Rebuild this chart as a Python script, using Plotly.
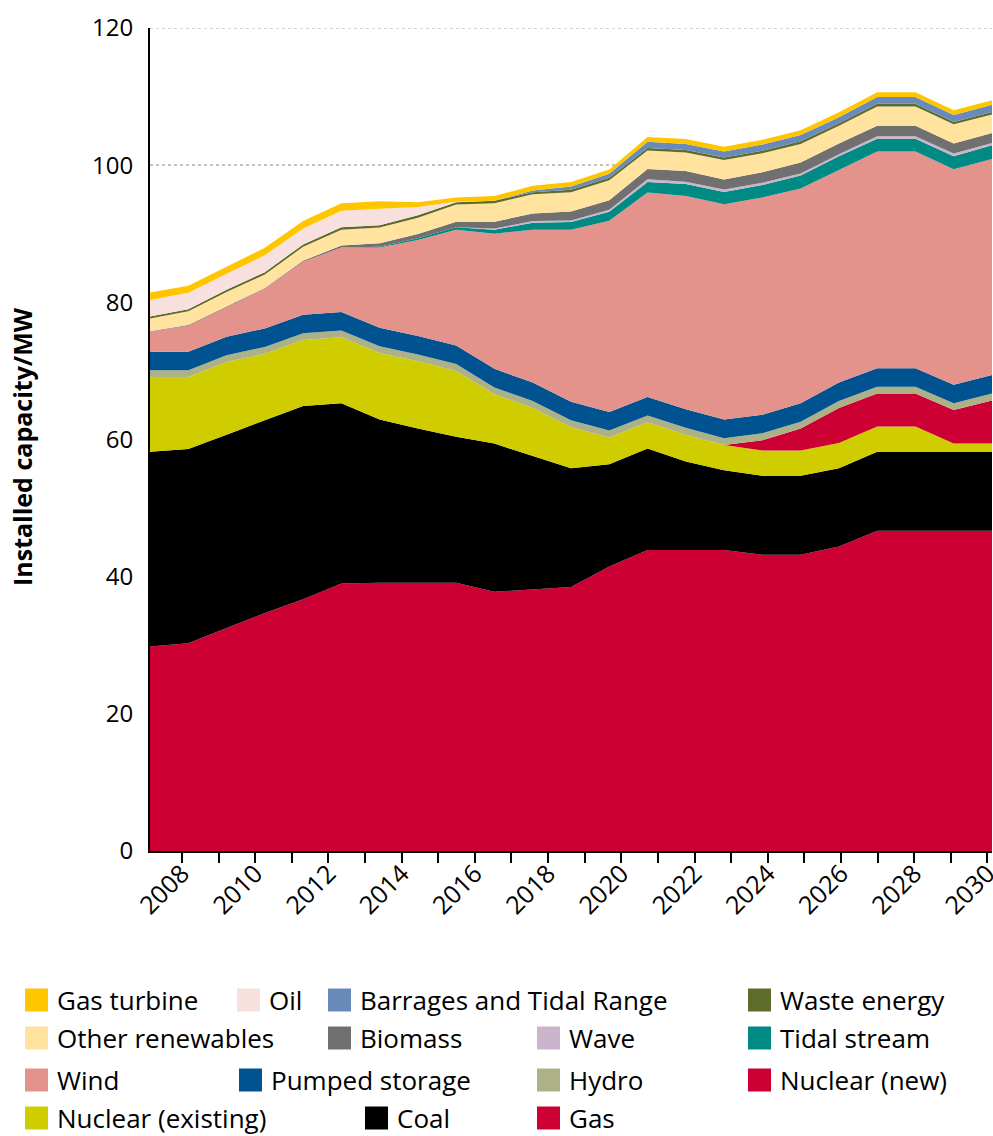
import plotly.graph_objects as go

years = list(range(2008, 2031))

# installed capacity per source (bottom of stack first)
gas = [29.8, 30.3, 32.5, 34.7, 36.7, 39.0, 39.1, 39.1, 39.1, 37.8, 38.2, 38.5, 41.5, 43.9, 43.9, 43.9, 43.2, 43.2, 44.4, 46.7, 46.7, 46.7, 46.7]
coal = [28.4, 28.3, 28.2, 28.1, 28.2, 26.3, 23.8, 22.5, 21.3, 21.6, 19.4, 17.3, 14.9, 14.8, 12.9, 11.6, 11.5, 11.5, 11.4, 11.5, 11.5, 11.5, 11.5]
nuclear_existing = [10.9, 10.5, 10.6, 9.7, 9.6, 9.6, 9.7, 9.8, 9.6, 7.2, 7.0, 6.0, 3.9, 3.8, 3.9, 3.7, 3.7, 3.7, 3.7, 3.7, 3.7, 1.2, 1.2]
nuclear_new = [0, 0, 0, 0, 0, 0, 0, 0, 0, 0, 0, 0, 0, 0, 0, 0, 1.5, 3.2, 5.1, 4.8, 4.8, 4.9, 6.3]
hydro = [1.0, 1.0, 1.0, 1.0, 1.0, 1.0, 1.0, 1.0, 1.0, 1.0, 1.0, 1.0, 1.0, 1.0, 1.0, 1.0, 1.0, 1.0, 1.0, 1.0, 1.0, 1.0, 1.0]
pumped_storage = [2.7, 2.7, 2.7, 2.7, 2.7, 2.7, 2.7, 2.7, 2.7, 2.7, 2.7, 2.7, 2.7, 2.7, 2.7, 2.7, 2.7, 2.7, 2.7, 2.7, 2.7, 2.7, 2.7]
wind = [2.9, 3.8, 4.3, 5.8, 7.7, 9.4, 11.7, 14.0, 16.9, 19.7, 22.3, 25.1, 27.9, 29.8, 31.1, 31.4, 31.7, 31.3, 31.0, 31.6, 31.6, 31.4, 31.5]
tidal_stream = [0, 0, 0, 0, 0, 0, 0.1, 0.25, 0.35, 0.6, 1.0, 1.1, 1.3, 1.55, 1.75, 1.8, 1.8, 1.9, 2.0, 1.85, 1.85, 1.9, 2.0]
wave = [0, 0, 0, 0, 0, 0, 0, 0, 0, 0.15, 0.25, 0.25, 0.3, 0.4, 0.35, 0.35, 0.35, 0.3, 0.3, 0.35, 0.35, 0.4, 0.35]
biomass = [0.1, 0.1, 0.1, 0.1, 0.15, 0.3, 0.5, 0.6, 0.8, 1.0, 1.1, 1.3, 1.4, 1.5, 1.55, 1.45, 1.5, 1.6, 1.55, 1.55, 1.55, 1.45, 1.45]
other_renewables = [1.85, 2.0, 2.1, 1.95, 2.05, 2.3, 2.3, 2.4, 2.5, 2.7, 2.8, 2.8, 2.9, 2.7, 2.7, 2.85, 2.8, 2.7, 2.6, 2.8, 2.8, 2.8, 2.7]
waste_energy = [0.3, 0.3, 0.35, 0.35, 0.35, 0.35, 0.35, 0.35, 0.35, 0.35, 0.3, 0.35, 0.35, 0.35, 0.35, 0.35, 0.35, 0.4, 0.35, 0.4, 0.4, 0.35, 0.35]
barrages = [0, 0, 0, 0, 0, 0, 0, 0, 0, 0, 0.25, 0.5, 0.6, 0.9, 0.9, 0.9, 0.9, 0.9, 0.9, 1.0, 1.0, 1.0, 1.05]
oil = [2.4, 2.4, 2.3, 2.45, 2.3, 2.4, 2.4, 1.2, 0.05, 0, 0, 0, 0, 0, 0, 0, 0, 0, 0, 0, 0, 0, 0]
gas_turbine = [1.1, 1.0, 1.05, 1.1, 1.1, 1.1, 1.1, 0.7, 0.65, 0.7, 0.7, 0.65, 0.6, 0.7, 0.7, 0.7, 0.7, 0.7, 0.7, 0.7, 0.7, 0.7, 0.65]

year_labels = [str(y) for y in range(2008, 2031, 2)]

series = [
    ("Gas", gas, "#cc0033"),
    ("Coal", coal, "#000000"),
    ("Nuclear (existing)", nuclear_existing, "#cfcc00"),
    ("Nuclear (new)", nuclear_new, "#cc0033"),
    ("Hydro", hydro, "#adb187"),
    ("Pumped storage", pumped_storage, "#005291"),
    ("Wind", wind, "#e3928c"),
    ("Tidal stream", tidal_stream, "#008a84"),
    ("Wave", wave, "#cbb4cc"),
    ("Biomass", biomass, "#707070"),
    ("Other renewables", other_renewables, "#ffe39e"),
    ("Waste energy", waste_energy, "#5f6b2a"),
    ("Barrages and Tidal Range", barrages, "#6a8bba"),
    ("Oil", oil, "#f7e0dd"),
    ("Gas turbine", gas_turbine, "#ffc600"),
]
colors = {name: c for name, _, c in series}

font = "Open Sans, Liberation Sans, sans-serif"

fig = go.Figure()
for name, vals, color in series:
    fig.add_trace(go.Scatter(
        x=years, y=vals, name=name, stackgroup="one", mode="lines",
        line=dict(width=0, color=color), fillcolor=color, showlegend=False,
    ))

# x ticks: 24 marks across the span, labels on every other one (as in the original);
# nudged a touch left so the last label stays inside the page
n_marks = 24
step = (years[-1] - years[0]) / (n_marks - 1)
nudge = 0.12
tickvals = [round(years[0] + j * step - nudge, 6) for j in range(n_marks)]
ticktext = [year_labels[(j - 1) // 2] if j % 2 == 1 else "" for j in range(n_marks)]

fig.update_xaxes(
    range=[years[0], years[-1]], tickvals=tickvals, ticktext=ticktext,
    tickangle=-45, ticks="outside", ticklen=10, tickwidth=1.5, tickcolor="black",
    ticklabelstandoff=-14, ticklabeloverflow="allow", automargin=False,
    showline=True, linecolor="black", linewidth=2, showgrid=False, zeroline=False,
    tickfont=dict(size=25, color="black", family=font),
)
fig.update_yaxes(
    range=[0, 120], dtick=20, showline=True, linecolor="black", linewidth=2,
    showgrid=True, gridcolor="#c4c4c4", griddash="dot", gridwidth=1.5, zeroline=False,
    ticks="", ticklabelstandoff=10, automargin=False,
    tickfont=dict(size=24, color="black", family=font),
)

W, H = 993, 1136
L, R, T, B = 150, 1, 28, 285
pw, ph = W - L - R, H - T - B


def px_x(px):
    return (px - L) / pw


def px_y(py):
    return (H - B - py) / ph


# hand-placed legend rows (pixel positions)
legend_rows = [
    (1000, [("Gas turbine", 25), ("Oil", 237), ("Barrages and Tidal Range", 328), ("Waste energy", 748)]),
    (1038, [("Other renewables", 25), ("Biomass", 328), ("Wave", 537), ("Tidal stream", 748)]),
    (1080, [("Wind", 25), ("Pumped storage", 239), ("Hydro", 537), ("Nuclear (new)", 748)]),
    (1118, [("Nuclear (existing)", 25), ("Coal", 365), ("Gas", 537)]),
]

shapes = [dict(
    type="line", xref="paper", yref="y", x0=0, x1=1, y0=120, y1=120,
    line=dict(color="#c4c4c4", width=1.5, dash="dot"),
)]
annotations = []
for yc, items in legend_rows:
    for name, x0 in items:
        shapes.append(dict(
            type="rect", xref="paper", yref="paper",
            x0=px_x(x0), x1=px_x(x0 + 23), y0=px_y(yc + 11.5), y1=px_y(yc - 11.5),
            fillcolor=colors[name], line=dict(width=0),
        ))
        annotations.append(dict(
            text=name, xref="paper", yref="paper", x=px_x(x0 + 30), y=px_y(yc),
            xanchor="left", yanchor="middle", showarrow=False,
            font=dict(size=26, color="black", family=font),
        ))

annotations.append(dict(
    text="<b>Installed capacity/MW</b>", textangle=-90, xref="paper", yref="paper",
    x=px_x(22), y=px_y(447), xanchor="center", yanchor="middle", showarrow=False,
    font=dict(size=25, color="black", family=font),
))

fig.update_layout(
    width=W, height=H, margin=dict(l=L, r=R, t=T, b=B, autoexpand=False),
    paper_bgcolor="white", plot_bgcolor="white",
    shapes=shapes, annotations=annotations, showlegend=False,
)

# drop the default 8px page margin so the figure sits at the window's corner
fig.write_html(
    "out.html",
    config={"displayModeBar": False},
    post_script="document.body.style.margin='0';document.body.style.overflow='hidden';",
)
